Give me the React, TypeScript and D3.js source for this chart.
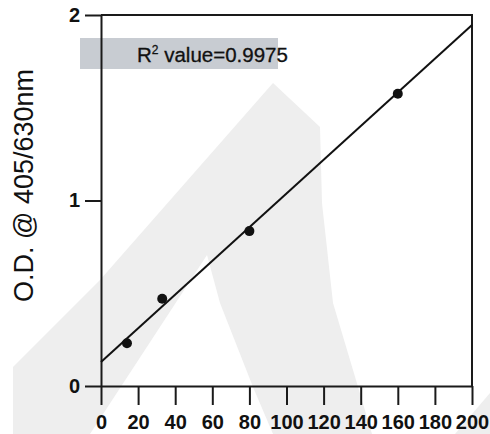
import React, { useRef, useEffect } from 'react'
import { select, scaleLinear, axisBottom, axisLeft, line } from 'd3'

// concentration vs optical density
const concentrations = [14, 33, 80, 160]
const opticalDensity = [0.23, 0.47, 0.835, 1.575]
const xTicks = [0, 20, 40, 60, 80, 100, 120, 140, 160, 180, 200]
const yTicks = [0, 1, 2]
// fitted line
const fitIntercept = [0.13]
const fitSlope = [0.00908]
const rSquared = '0.9975'

const width = 490
const height = 434
const margin = { top: 15, right: 18, bottom: 48, left: 101 }
const font = '"Liberation Sans", Arial, Helvetica, sans-serif'

const App = () => {
  const svgRef = useRef<SVGSVGElement>(null)

  useEffect(() => {
    const svg = select(svgRef.current)
    svg.selectAll('*').remove()

    const x = scaleLinear().domain([0, 200]).range([margin.left, width - margin.right])
    const y = scaleLinear().domain([0, 2]).range([height - margin.bottom, margin.top])

    // watermark in the background
    const wm = svg.append('g').attr('fill', '#eeeeee')
    wm.append('path')
      .attr('d', 'M13,434 L13,367 L100,280 L273,83 L320,127 L322,203 L333,303 L353,370 L372,434 L273,434 L253,387 L220,303 L207,255 L90,434 Z')
    wm.append('path').attr('d', 'M455,434 L490,393 L490,434 Z')

    // R² box
    svg.append('rect')
      .attr('x', 80).attr('y', 38)
      .attr('width', 198).attr('height', 31)
      .attr('fill', '#c8ccd2')
    const r2 = svg.append('text')
      .attr('x', 137).attr('y', 62)
      .attr('font-family', font).attr('font-size', 20.5)
      .attr('fill', '#111').attr('stroke', '#111').attr('stroke-width', 0.3)
    r2.append('tspan').text('R')
    r2.append('tspan').attr('font-size', 12).attr('dy', -8).text('2')
    r2.append('tspan').attr('dy', 8).text(` value=${rSquared}`)

    // frame top & right
    svg.append('path')
      .attr('d', `M${x(0)},${y(2)} H${x(200)} V${y(0)}`)
      .attr('fill', 'none').attr('stroke', '#1a1a1a').attr('stroke-width', 2)

    const xAxis = svg.append('g')
      .attr('transform', `translate(0,${y(0)})`)
      .call(axisBottom(x).tickValues(xTicks).tickSize(19).tickSizeOuter(0).tickFormat(d => `${d}`))
    xAxis.select('.domain').attr('stroke', '#1a1a1a').attr('stroke-width', 2)
    xAxis.selectAll('.tick line').attr('stroke', '#1a1a1a').attr('stroke-width', 2)
    xAxis.selectAll('.tick text')
      .attr('font-family', font).attr('font-size', 20).attr('font-weight', 'bold')
      .attr('fill', '#111').attr('y', 29).attr('dy', '0.71em')

    const yAxis = svg.append('g')
      .attr('transform', `translate(${x(0)},0)`)
      .call(axisLeft(y).tickValues(yTicks).tickSize(16).tickSizeOuter(0).tickFormat(d => `${d}`))
    yAxis.select('.domain').attr('stroke', '#1a1a1a').attr('stroke-width', 2)
    yAxis.selectAll('.tick line').attr('stroke', '#1a1a1a').attr('stroke-width', 2)
    yAxis.selectAll('.tick text')
      .attr('font-family', font).attr('font-size', 20).attr('font-weight', 'bold')
      .attr('fill', '#111').attr('x', -21)

    svg.append('text')
      .attr('transform', `translate(33,${(y(0) + y(2)) / 2 - 15}) rotate(-90)`)
      .attr('text-anchor', 'middle')
      .attr('font-family', font).attr('font-size', 27)
      .attr('fill', '#111')
      .text('O.D. @ 405/630nm')

    // regression line
    const fit = line<number>()
      .x(d => x(d))
      .y(d => y(fitIntercept[0] + fitSlope[0] * d))
    svg.append('path')
      .datum([0, 200])
      .attr('d', fit)
      .attr('fill', 'none').attr('stroke', '#111').attr('stroke-width', 2)

    svg.append('g')
      .selectAll('circle')
      .data(concentrations)
      .join('circle')
      .attr('cx', d => x(d))
      .attr('cy', (d, i) => y(opticalDensity[i]))
      .attr('r', 5)
      .attr('fill', '#111')
  }, [])

  return (
    <svg ref={svgRef} width={width} height={height}
      style={{ position: 'absolute', left: 0, top: 0, background: '#fff' }} />
  )
}

export default App
